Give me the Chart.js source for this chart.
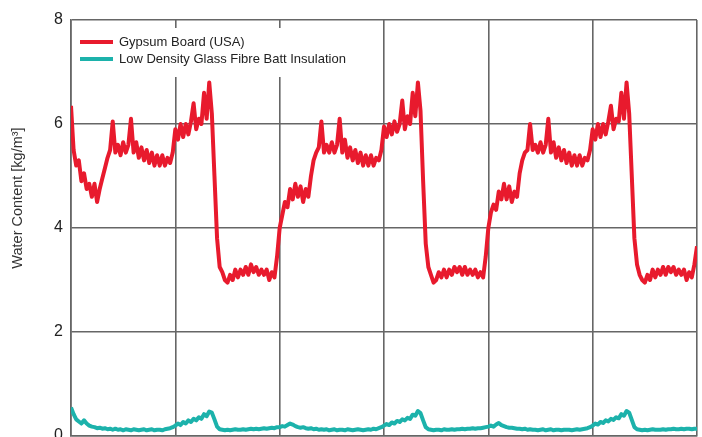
<!DOCTYPE html>
<html>
<head>
<meta charset="utf-8">
<script src="https://cdn.jsdelivr.net/npm/chart.js@4/dist/chart.umd.min.js"></script>
<style>
  html, body { margin: 0; padding: 0; overflow: hidden; background: #fff; }
  #wrap { width: 702px; height: 460px; }
</style>
</head>
<body>
<div id="wrap"><canvas id="c" width="702" height="460"></canvas></div>
<script>
// Samples: 40 per grid division, 6 divisions (x from 0 to 6)
const samplesPerDivision = 40;
const seriesNames = ["Gypsum Board (USA)", "Low Density Glass Fibre Batt Insulation"];
const yTickValues = [0, 2, 4, 6, 8];
const yAxisTitle = "Water Content [kg/m³]";

const gypsumBoard = [
  // division 0
  6.35, 5.5, 5.2, 5.3, 4.9, 5.05, 4.75, 4.85, 4.6, 4.85, 4.5, 4.75, 4.95, 5.15, 5.35, 5.5, 6.05, 5.45, 5.6, 5.4,
  5.65, 5.45, 5.6, 6.1, 5.45, 5.65, 5.35, 5.55, 5.3, 5.5, 5.25, 5.45, 5.2, 5.4, 5.2, 5.4, 5.2, 5.35, 5.25, 5.45,
  // division 1
  5.9, 5.7, 6.0, 5.75, 6.0, 5.8, 6.05, 6.4, 5.9, 6.1, 6.0, 6.6, 6.1, 6.8, 6.2, 5.0, 3.8, 3.25, 3.15, 3.0,
  2.95, 3.1, 3.0, 3.2, 3.05, 3.2, 3.1, 3.25, 3.1, 3.3, 3.15, 3.25, 3.1, 3.2, 3.1, 3.2, 3.0, 3.15, 3.05, 3.45,
  // division 2
  4.0, 4.25, 4.5, 4.4, 4.75, 4.55, 4.85, 4.6, 4.8, 4.5, 4.75, 4.6, 5.0, 5.3, 5.45, 5.55, 6.05, 5.45, 5.6, 5.45,
  5.65, 5.45, 5.6, 6.1, 5.45, 5.7, 5.35, 5.55, 5.3, 5.5, 5.25, 5.45, 5.2, 5.4, 5.2, 5.4, 5.2, 5.35, 5.3, 5.5,
  // division 3
  5.95, 5.75, 6.0, 5.8, 6.05, 5.85, 6.0, 6.45, 5.9, 6.15, 6.0, 6.6, 6.15, 6.8, 6.25, 4.9, 3.7, 3.25, 3.1, 2.95,
  3.0, 3.15, 3.05, 3.2, 3.05, 3.2, 3.1, 3.25, 3.15, 3.25, 3.1, 3.25, 3.1, 3.2, 3.1, 3.2, 3.05, 3.15, 3.05, 3.45,
  // division 4
  4.0, 4.3, 4.45, 4.35, 4.7, 4.55, 4.85, 4.55, 4.8, 4.5, 4.7, 4.6, 5.05, 5.3, 5.45, 5.5, 6.0, 5.5, 5.6, 5.45,
  5.65, 5.45, 5.6, 6.1, 5.45, 5.65, 5.35, 5.55, 5.3, 5.5, 5.25, 5.45, 5.2, 5.4, 5.2, 5.4, 5.2, 5.35, 5.3, 5.5,
  // division 5
  5.9, 5.7, 6.0, 5.75, 6.0, 5.8, 6.05, 6.35, 5.9, 6.1, 6.05, 6.6, 6.1, 6.8, 6.2, 5.0, 3.8, 3.3, 3.1, 3.0,
  2.95, 3.1, 3.0, 3.2, 3.05, 3.2, 3.1, 3.25, 3.1, 3.25, 3.15, 3.25, 3.1, 3.2, 3.1, 3.2, 3.0, 3.15, 3.05, 3.3,
  3.65
];

const glassFibreBatt = [
  // division 0
  0.55, 0.42, 0.32, 0.28, 0.24, 0.3, 0.24, 0.2, 0.18, 0.17, 0.15, 0.16, 0.14, 0.15, 0.13, 0.14, 0.12, 0.14, 0.12, 0.13,
  0.11, 0.13, 0.12, 0.11, 0.13, 0.12, 0.11, 0.12, 0.13, 0.11, 0.12, 0.13, 0.11, 0.12, 0.12, 0.11, 0.13, 0.14, 0.15, 0.17,
  // division 1
  0.2, 0.24, 0.21, 0.27, 0.24, 0.3, 0.27, 0.33, 0.3, 0.36, 0.33, 0.42, 0.38, 0.47, 0.45, 0.32, 0.18, 0.13, 0.12, 0.11,
  0.12, 0.11, 0.12, 0.13, 0.12, 0.12, 0.13, 0.12, 0.13, 0.14, 0.13, 0.14, 0.13, 0.14, 0.15, 0.14, 0.15, 0.16, 0.15, 0.17,
  // division 2
  0.17, 0.19, 0.18, 0.21, 0.24, 0.22, 0.19, 0.17, 0.16, 0.17, 0.15, 0.14, 0.15, 0.13, 0.14, 0.12, 0.13, 0.12, 0.13, 0.11,
  0.12, 0.13, 0.11, 0.12, 0.12, 0.11, 0.13, 0.12, 0.11, 0.12, 0.13, 0.12, 0.11, 0.12, 0.13, 0.12, 0.14, 0.13, 0.15, 0.17,
  // division 3
  0.2, 0.23, 0.21, 0.26, 0.24, 0.29, 0.27, 0.32, 0.3, 0.35, 0.33, 0.41, 0.39, 0.48, 0.44, 0.3, 0.17, 0.13, 0.12, 0.11,
  0.12, 0.12, 0.11, 0.13, 0.12, 0.12, 0.13, 0.12, 0.13, 0.13, 0.14, 0.13, 0.14, 0.14, 0.15, 0.14, 0.15, 0.15, 0.16, 0.17,
  // division 4
  0.18, 0.2, 0.18, 0.22, 0.25, 0.21, 0.19, 0.17, 0.16, 0.16, 0.15, 0.14, 0.14, 0.13, 0.14, 0.12, 0.13, 0.12, 0.12, 0.11,
  0.12, 0.13, 0.11, 0.12, 0.13, 0.11, 0.12, 0.12, 0.11, 0.12, 0.12, 0.12, 0.11, 0.12, 0.13, 0.12, 0.13, 0.14, 0.15, 0.17,
  // division 5
  0.2, 0.24, 0.22, 0.27, 0.25, 0.3, 0.28, 0.33, 0.31, 0.36, 0.34, 0.42, 0.39, 0.48, 0.45, 0.31, 0.17, 0.13, 0.12, 0.11,
  0.12, 0.11, 0.12, 0.13, 0.12, 0.12, 0.12, 0.13, 0.12, 0.13, 0.13, 0.14, 0.13, 0.13, 0.14, 0.13, 0.14, 0.14, 0.13, 0.14,
  0.14
];

const seriesColors = ["#e81a2d", "#1cb2ab"];
const gridColor = "#666666";

function toPoints(values) {
  return values.map((v, i) => ({ x: i / samplesPerDivision, y: v }));
}

const legendInside = {
  id: "legendInside",
  afterDatasetsDraw(chart) {
    const ctx = chart.ctx;
    ctx.save();
    ctx.fillStyle = "#ffffff";
    ctx.fillRect(73, 28, 290, 49);
    const rows = [42, 59];
    chart.data.datasets.forEach((ds, i) => {
      ctx.strokeStyle = ds.borderColor;
      ctx.lineWidth = 4;
      ctx.lineCap = "butt";
      ctx.beginPath();
      ctx.moveTo(80, rows[i]);
      ctx.lineTo(113, rows[i]);
      ctx.stroke();
      ctx.fillStyle = "#222";
      ctx.font = "13px 'Liberation Sans', Arial, sans-serif";
      ctx.textBaseline = "middle";
      ctx.textAlign = "left";
      ctx.fillText(ds.label, 119, rows[i] + 0.5);
    });
    ctx.restore();
  },
  afterDraw(chart) {
    const ctx = chart.ctx;
    ctx.save();
    ctx.translate(18, 198);
    ctx.rotate(-Math.PI / 2);
    ctx.fillStyle = "#333";
    ctx.font = "14.5px 'Liberation Sans', Arial, sans-serif";
    ctx.textAlign = "center";
    ctx.textBaseline = "middle";
    ctx.fillText(yAxisTitle, 0, 0);
    ctx.restore();
  }
};

new Chart(document.getElementById("c"), {
  type: "line",
  data: {
    datasets: [
      { label: seriesNames[0], data: toPoints(gypsumBoard), borderColor: seriesColors[0], borderWidth: 4 },
      { label: seriesNames[1], data: toPoints(glassFibreBatt), borderColor: seriesColors[1], borderWidth: 4 }
    ]
  },
  options: {
    responsive: false,
    animation: false,
    events: [],
    layout: { padding: { top: 20, right: 5, bottom: 24, left: 0 } },
    elements: { point: { radius: 0 }, line: { tension: 0, borderJoinStyle: "round" } },
    plugins: { legend: { display: false }, tooltip: { enabled: false } },
    scales: {
      x: {
        type: "linear",
        min: 0, max: 6,
        ticks: { display: false, stepSize: 1 },
        grid: { color: gridColor, lineWidth: 1.6, drawTicks: false },
        border: { color: gridColor, width: 1.6 }
      },
      y: {
        min: 0, max: 8,
        afterBuildTicks(scale) { scale.ticks = yTickValues.map(v => ({ value: v })); },
        afterFit(scale) { scale.width = 71; },
        ticks: { padding: 8, color: "#222", font: { family: "'Liberation Sans', Arial, sans-serif", size: 16 } },
        grid: { color: gridColor, lineWidth: 1.6, drawTicks: false },
        border: { color: gridColor, width: 1.6 }
      }
    }
  },
  plugins: [legendInside]
});
</script>
</body>
</html>
